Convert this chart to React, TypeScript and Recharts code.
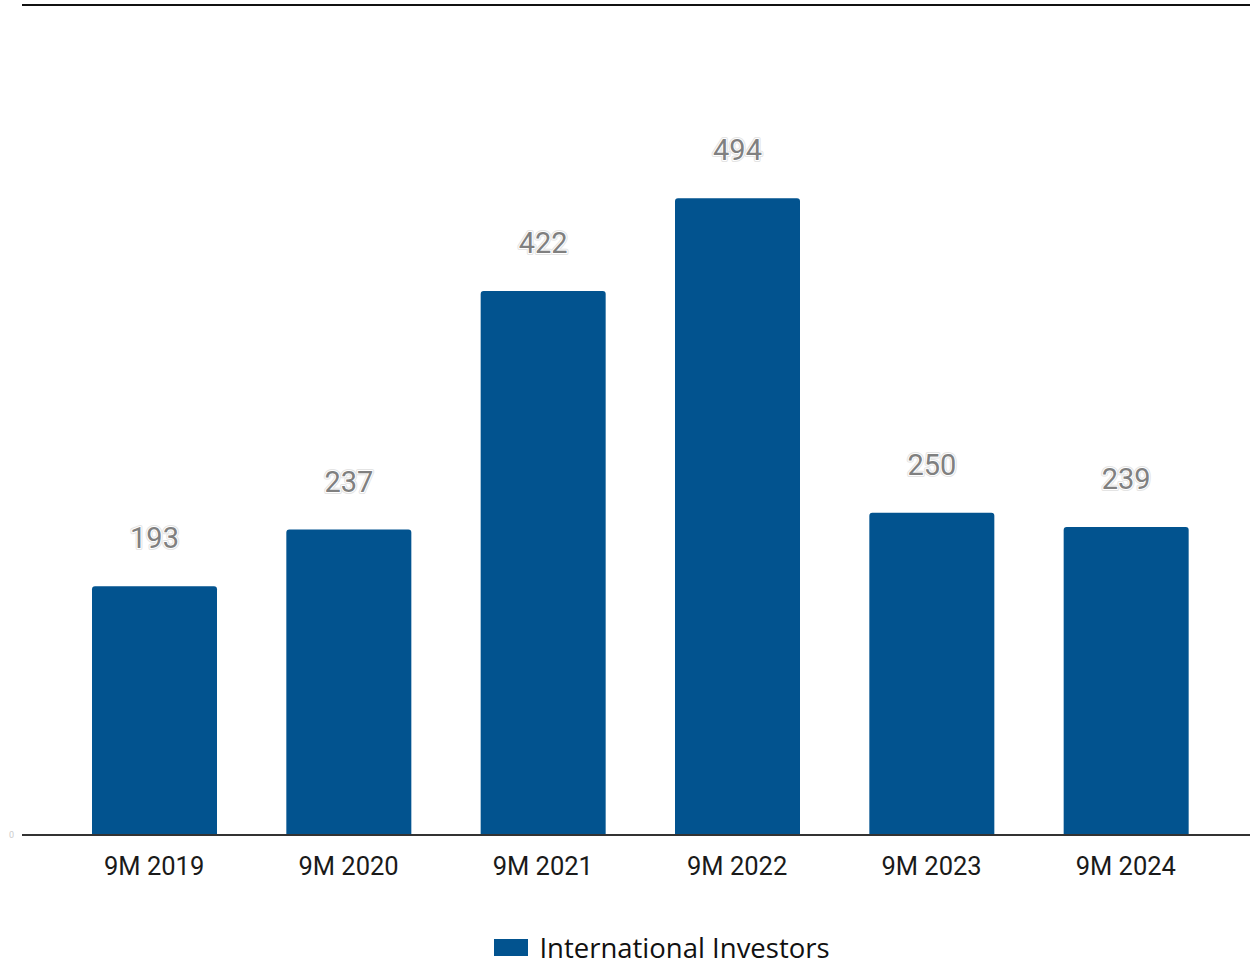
import { BarChart, Bar, XAxis, YAxis, LabelList, Legend, ReferenceLine } from "recharts";

const PERIODS = ["9M 2019", "9M 2020", "9M 2021", "9M 2022", "9M 2023", "9M 2024"];
const INVESTORS = [193, 237, 422, 494, 250, 239];
const Y_TICKS = [0];
const Y_MAX = 644;
const SERIES_NAME = "International Investors";
const BAR_COLOR = "#02538f";

const data = PERIODS.map((p, i) => ({ period: p, investors: INVESTORS[i] }));

const ValueLabel = (props: any) => {
  const { x, y, width, value } = props;
  const cx = x + width / 2;
  const ty = y - 38;
  const common = {
    x: cx,
    y: ty,
    textAnchor: "middle" as const,
    fontFamily: "Roboto",
    fontSize: 29,
  };
  return (
    <g>
      <text {...common} fill="none" stroke="#e4e4e4" strokeWidth={4} strokeLinejoin="round">
        {value}
      </text>
      <text {...common} fill="#808080" stroke="#fff" strokeWidth={2} strokeLinejoin="round" paintOrder="stroke">
        {value}
      </text>
    </g>
  );
};

// legend sits a bit right of centre in the original
const LegendContent = () => (
  <div
    style={{
      height: 50,
      display: "flex",
      justifyContent: "center",
      alignItems: "center",
      paddingTop: 17,
      paddingLeft: 74,
      boxSizing: "border-box",
    }}
  >
    <span style={{ display: "inline-block", width: 34, height: 17, background: BAR_COLOR, marginRight: 11 }} />
    <span style={{ fontFamily: "'Open Sans'", fontSize: 27.5, lineHeight: "28px", color: "#111" }}>{SERIES_NAME}</span>
  </div>
);

export default function App() {
  return (
    <div style={{ position: "absolute", left: 0, top: 0, background: "#fff" }}>
      <BarChart width={1250} height={964} data={data} margin={{ top: 5, right: 0, left: 0, bottom: 0 }}>
        <XAxis
          dataKey="period"
          height={79}
          padding={{ left: 35, right: 27 }}
          tickLine={false}
          tickSize={6}
          tickMargin={16}
          axisLine={{ stroke: "#333", strokeWidth: 2 }}
          tick={{ fill: "#1a1a1a", fontFamily: "Roboto", fontSize: 25.5 }}
        />
        <YAxis
          width={22}
          domain={[0, Y_MAX]}
          ticks={Y_TICKS}
          axisLine={false}
          tickLine={false}
          tickSize={0}
          tickMargin={8}
          tick={{ fill: "#ccc", fontSize: 9, fontFamily: "Roboto" }}
        />
        <ReferenceLine y={Y_MAX} stroke="#111" strokeWidth={2} />
        <Legend verticalAlign="bottom" height={50} content={<LegendContent />} />
        <Bar dataKey="investors" name={SERIES_NAME} fill={BAR_COLOR} barSize={125} radius={[3, 3, 0, 0]} isAnimationActive={false}>
          <LabelList dataKey="investors" content={<ValueLabel />} />
        </Bar>
      </BarChart>
    </div>
  );
}
